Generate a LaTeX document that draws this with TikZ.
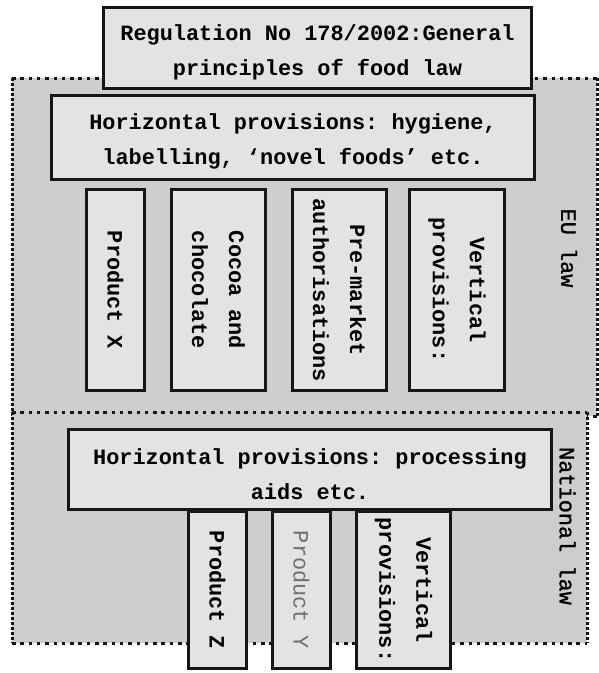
\documentclass[tikz,border=0pt]{standalone}
\usepackage{fontspec}
\newfontfamily\cour{Liberation Mono}
\newfontfamily\courlabel{Liberation Mono}[FakeBold=1.2]
\definecolor{zonefill}{HTML}{CDCDCD}
\definecolor{boxfill}{HTML}{E3E3E3}
\definecolor{boxline}{HTML}{161616}
\definecolor{dimtext}{HTML}{6E6E6E}
\frenchspacing
\begin{document}
\begin{tikzpicture}[x=1pt,y=-1pt,
  box/.style={draw=boxline, fill=boxfill, line width=3pt, inner sep=0pt,
    align=center, font=\cour\bfseries\fontsize{21.9pt}{35pt}\selectfont},
  upright/.style={box, rotate=-90, font=\cour\bfseries\fontsize{21.9pt}{37pt}\selectfont},
  hdots/.style={draw=boxline, line width=3pt, dash pattern=on 3.5pt off 4.8pt},
  vdots/.style={draw=boxline, line width=3pt, dash pattern=on 3pt off 2pt},
  lawlabel/.style={rotate=-90, inner sep=0pt,
    font=\courlabel\fontsize{21.9pt}{35pt}\selectfont}]
\useasboundingbox (0,0) rectangle (599,673);

% EU law zone
\coordinate (eu-nw) at (12,78);
\coordinate (eu-ne) at (597,78);
\coordinate (eu-se) at (597,416);
\coordinate (eu-sw) at (12,416);
\fill[zonefill] (eu-nw) rectangle (eu-se);
\draw[hdots] (eu-nw) -- (eu-ne);
\draw[hdots] (eu-sw) -- (eu-se);
\draw[vdots] (eu-nw) -- (eu-sw);
\draw[vdots] (eu-ne) -- (eu-se);

% National law zone
\coordinate (nat-nw) at (12,412);
\coordinate (nat-ne) at (587,412);
\coordinate (nat-se) at (587,643);
\coordinate (nat-sw) at (12,643);
\fill[zonefill] (nat-nw) rectangle (nat-se);
\draw[hdots] (nat-nw) -- (nat-ne);
\draw[hdots] (nat-sw) -- (nat-se);
\draw[vdots] (nat-nw) -- (nat-sw);
\draw[vdots] (nat-ne) -- (nat-se);

% General principles
\node[box, minimum width=428pt, minimum height=81pt] (general) at (317.5,48)
  {\strut Regulation No 178/2002:General\\principles of food law};

% EU horizontal provisions
\node[box, minimum width=483pt, minimum height=84pt] (euhoriz) at (293,137)
  {\strut Horizontal provisions: hygiene,\\labelling, ‘novel foods’ etc.};

% EU vertical provisions
\node[upright, minimum width=201pt, minimum height=58pt] (prodx) at (115.5,290) {Product X};
\node[upright, minimum width=201pt, minimum height=94pt] (cocoa) at (218.5,290) {Cocoa and\\chocolate};
\node[upright, minimum width=201pt, minimum height=94pt] (premarket) at (339.5,290) {Pre-market\\authorisations};
\node[upright, minimum width=201pt, minimum height=95pt] (euvert) at (457,290) {Vertical\\provisions:};

% National horizontal provisions
\node[box, minimum width=483pt, minimum height=80pt] (nathoriz) at (310,469.5)
  {\strut Horizontal provisions: processing\\aids etc.};

% National vertical provisions
\node[upright, minimum width=157pt, minimum height=58pt] (prodz) at (217.5,590) {Product Z};
\node[upright, minimum width=157pt, minimum height=58pt, font=\cour\fontsize{21.9pt}{35pt}\selectfont, text=dimtext] (prody) at (301.5,590) {Product Y};
\node[upright, minimum width=157pt, minimum height=94pt] (natvert) at (403.5,590) {Vertical\\provisions:};

% Zone labels
\node[lawlabel] (eulabel) at (569,248) {EU law};
\node[lawlabel] (natlabel) at (567.5,526) {National law};
\end{tikzpicture}
\end{document}
